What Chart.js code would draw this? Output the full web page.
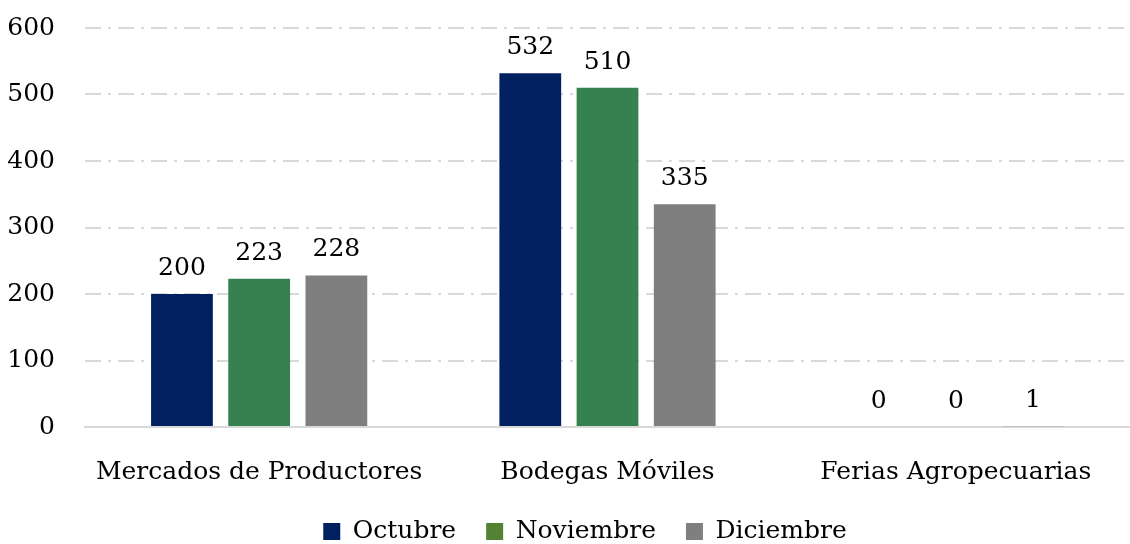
<!DOCTYPE html>
<html><head><meta charset="utf-8">
<script src="https://cdn.jsdelivr.net/npm/chart.js@4/dist/chart.umd.min.js"></script>
<style>html,body{margin:0;padding:0;background:#fff}#wrap{width:1130px;height:544px}</style>
</head><body><div id="wrap"><canvas id="c" width="1130" height="544"></canvas></div>
<script>
const categories = ["Mercados de Productores", "Bodegas Móviles", "Ferias Agropecuarias"];
const octubre = [200, 532, 0];
const noviembre = [223, 510, 0];
const diciembre = [228, 335, 1];
const yTicks = [0, 100, 200, 300, 400, 500, 600];
const seriesNames = ["Octubre", "Noviembre", "Diciembre"];

const FONT = "'DejaVu Serif', serif";
const barColors = ["#002060", "#358250", "#7f7f7f"];
const legendColors = ["#002060", "#548235", "#7f7f7f"];

const labelPlugin = {
  id: 'vals',
  afterLayout(chart) {
    const lg = chart.legend;
    lg.top += 10; lg.bottom += 10;
    lg.left += 20; lg.right += 20;
    const x = chart.scales.x;
    x.bottom += 20; x.height += 20;
  },
  afterDatasetsDraw(chart) {
    const ctx = chart.ctx;
    ctx.save();
    ctx.font = "25px " + FONT;
    ctx.fillStyle = "#000";
    ctx.textAlign = "center";
    ctx.textBaseline = "alphabetic";
    chart.data.datasets.forEach((ds, i) => {
      chart.getDatasetMeta(i).data.forEach((bar, j) => {
        ctx.fillText(String(ds.data[j]), bar.x, bar.y - 19);
      });
    });
    ctx.restore();
  }
};

new Chart(document.getElementById('c'), {
  type: 'bar',
  data: {
    labels: categories,
    datasets: [octubre, noviembre, diciembre].map((d, i) => ({
      label: seriesNames[i], data: d, backgroundColor: barColors[i],
      categoryPercentage: 0.665, barPercentage: 0.8
    }))
  },
  options: {
    responsive: false, animation: false,
    layout: { padding: { left: 0, right: 0, top: 28, bottom: 0 } },
    plugins: {
      tooltip: { enabled: false },
      legend: {
        position: 'bottom',
        labels: {
          font: { family: FONT, size: 25 }, color: '#000',
          boxWidth: 17, boxHeight: 17, padding: 30,
          generateLabels(chart) {
            return chart.data.datasets.map((ds, i) => ({
              text: ds.label, fillStyle: legendColors[i], strokeStyle: legendColors[i],
              lineWidth: 0, datasetIndex: i, hidden: false
            }));
          }
        }
      }
    },
    scales: {
      x: {
        afterFit(axis) { axis.height = 52; },
        grid: { display: false },
        border: { display: true, color: '#d9d9d9', width: 2 },
        ticks: { font: { family: FONT, size: 25 }, color: '#000', padding: 22 }
      },
      y: {
        min: 0, max: 600,
        afterFit(axis) { axis.width = 85; axis.paddingTop = 0; axis.paddingBottom = 0; },
        afterBuildTicks(axis) { axis.ticks = yTicks.map(v => ({ value: v })); },
        grid: { color: (c) => c.tick && c.tick.value === 0 ? 'rgba(0,0,0,0)' : '#d9d9d9', lineWidth: 2, drawTicks: false },
        border: { display: false, dash: [16, 7, 3, 7] },
        ticks: { font: { family: FONT, size: 25 }, color: '#000', padding: 30 }
      }
    }
  },
  plugins: [labelPlugin]
});
</script></body></html>
